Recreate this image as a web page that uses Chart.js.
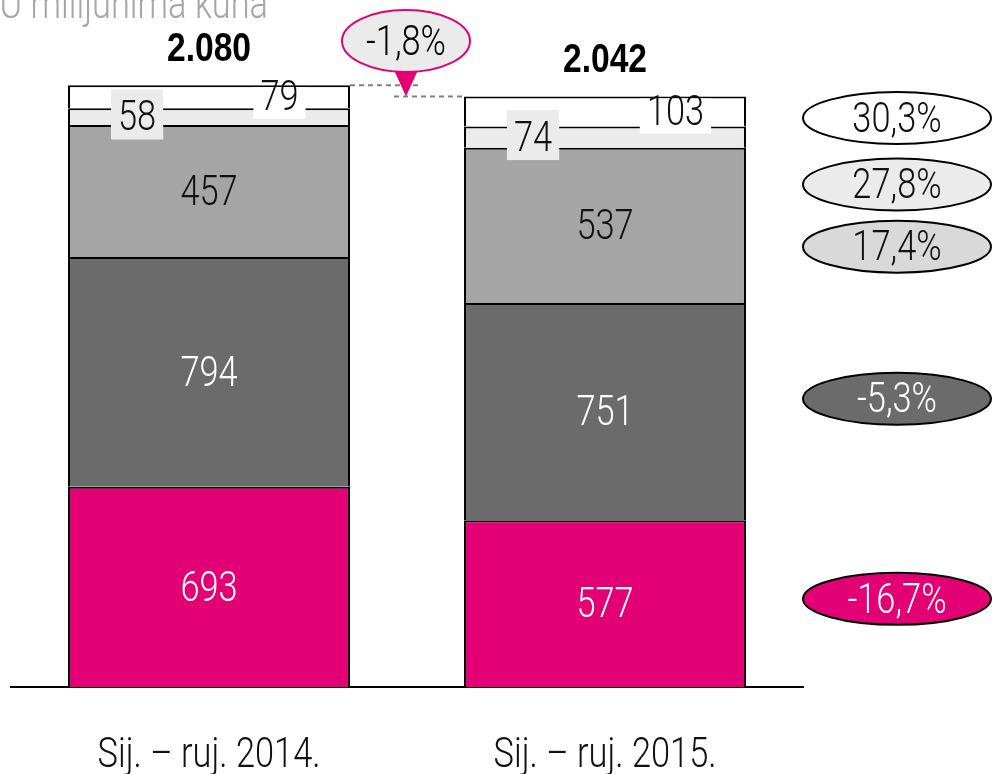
<!DOCTYPE html>
<html><head><meta charset="utf-8">
<script src="https://cdn.jsdelivr.net/npm/chart.js@4/dist/chart.umd.min.js"></script>
<style>html,body{margin:0;padding:0;background:#fff;overflow:hidden}#wrap{width:992px;height:774px;position:relative}</style>
</head><body><div id="wrap"><canvas id="c" width="992" height="774"></canvas></div>
<script>
// ---- data ----
const categories = ['Sij. – ruj. 2014.', 'Sij. – ruj. 2015.'];
const segment1 = [693, 577];   // magenta, bottom
const segment2 = [794, 751];   // dark grey
const segment3 = [457, 537];   // grey
const segment4 = [58, 74];     // light grey
const segment5 = [79, 103];    // white, top
const totals = [2080, 2042];
const growthLabels = ['30,3%', '27,8%', '17,4%', '-5,3%', '-16,7%'];
const totalChangeLabel = '-1,8%';
const titleText = 'U milijunima kuna';

const LIGHT_FONT = "Roboto, 'Liberation Sans', sans-serif";
const BOLD_FONT = "'Liberation Sans', Arial, sans-serif";
const MAGENTA = '#e20074';

function fmtThousands(n) {
  return String(n).replace(/\B(?=(\d{3})+(?!\d))/g, '.');
}
function setFont(ctx, size, weight) {
  if (weight === 'bold') ctx.font = `bold ${size}px ${BOLD_FONT}`;
  else ctx.font = `300 ${size}px ${LIGHT_FONT}`;
}
function squeezeOf(weight) { return weight === 'bold' ? 0.82 : 0.8; }
function textW(ctx, txt, size, weight) {
  setFont(ctx, size, weight);
  return ctx.measureText(txt).width * squeezeOf(weight);
}
function drawText(ctx, txt, x, y, size, color, opt) {
  opt = opt || {};
  ctx.save();
  setFont(ctx, size, opt.weight);
  ctx.fillStyle = color;
  ctx.textAlign = opt.align || 'center';
  ctx.textBaseline = opt.baseline || 'middle';
  ctx.translate(x, y);
  ctx.scale(squeezeOf(opt.weight), 1);
  ctx.fillText(txt, 0, 0);
  ctx.restore();
}
function ellipse(ctx, cx, cy, rx, ry, fill, stroke, lw) {
  ctx.beginPath();
  ctx.ellipse(cx, cy, rx, ry, 0, 0, Math.PI * 2);
  ctx.fillStyle = fill; ctx.fill();
  ctx.lineWidth = lw; ctx.strokeStyle = stroke; ctx.stroke();
}

const overlay = {
  id: 'overlay',
  afterDatasetsDraw(chart, args, opts) {
    const ctx = chart.ctx;
    const ys = chart.scales.y;
    const xs = chart.scales.x;
    const area = chart.chartArea;
    const nds = chart.data.datasets.length;
    const topMeta = chart.getDatasetMeta(nds - 1);
    ctx.save();
    // segment value labels
    chart.data.datasets.forEach((ds, di) => {
      const meta = chart.getDatasetMeta(di);
      const spec = opts.labels[di];
      meta.data.forEach((bar, i) => {
        const p = bar.getProps(['x', 'y', 'base', 'width'], true);
        const txt = String(ds.data[i]);
        const left = p.x - p.width / 2;
        const cx = left + p.width * spec.xFrac;
        const cy = (p.y + p.base) / 2;
        const tw = textW(ctx, txt, spec.size);
        if (spec.box) {
          ctx.save();
          const topY = topMeta.data[i].y;
          ctx.beginPath(); ctx.rect(left + 2, topY + 2, p.width - 4, 2000); ctx.clip();
          ctx.fillStyle = spec.box;
          ctx.fillRect(cx - tw / 2 - spec.padX, cy - spec.up, tw + 2 * spec.padX, spec.up + spec.down);
          ctx.restore();
        }
        drawText(ctx, txt, cx, cy + 3, spec.size, spec.color);
      });
    });
    // totals above bars
    const tops = [];
    topMeta.data.forEach((bar, i) => {
      tops.push({x: bar.x, w: bar.width, y: bar.y});
      drawText(ctx, fmtThousands(totals[i]), bar.x, bar.y - 36, 41, '#000', {weight: 'bold'});
    });
    // change callout between bars
    const a = tops[0], b = tops[1];
    const r1 = a.x + a.w / 2, l2 = b.x - b.w / 2;
    const mx = (r1 + l2) / 2 - 1;
    ctx.setLineDash([5, 4]);
    ctx.strokeStyle = '#808080'; ctx.lineWidth = 2;
    ctx.beginPath(); ctx.moveTo(r1, a.y); ctx.lineTo(mx + 12, a.y); ctx.stroke();
    ctx.beginPath(); ctx.moveTo(mx - 12, b.y); ctx.lineTo(l2, b.y); ctx.stroke();
    ctx.setLineDash([]);
    const ecy = 41;
    ctx.fillStyle = MAGENTA;
    ctx.beginPath(); ctx.moveTo(mx - 12, ecy + 29); ctx.lineTo(mx + 12, ecy + 29); ctx.lineTo(mx, b.y); ctx.closePath(); ctx.fill();
    ellipse(ctx, mx, ecy, 64, 31, '#ebebeb', MAGENTA, 2);
    drawText(ctx, totalChangeLabel, mx, ecy + 3, 43, '#000');
    // growth badges on the right
    const bx = area.right + 94;
    opts.badges.forEach((bd, k) => {
      const cy = ys.getPixelForValue(bd.at);
      ellipse(ctx, bx, cy, 94, 26, bd.fill, '#000', 2);
      drawText(ctx, growthLabels[k], bx, cy + 3, 43, bd.color);
    });
    // category labels under the axis
    chart.data.labels.forEach((lab, i) => {
      drawText(ctx, lab, xs.getPixelForValue(i), area.bottom + 69, 43, '#111');
    });
    // title (partly cut at top-left)
    drawText(ctx, titleText, 268, 18, 43, '#a6a6a6', {align: 'right', baseline: 'alphabetic'});
    ctx.restore();
  }
};

const common = {borderColor: '#000', borderWidth: 2, borderSkipped: 'start', inflateAmount: 0, categoryPercentage: 1, barPercentage: 0.712};
new Chart(document.getElementById('c'), {
  type: 'bar',
  data: {
    labels: categories,
    datasets: [
      Object.assign({data: segment1, backgroundColor: MAGENTA}, common),
      Object.assign({data: segment2, backgroundColor: '#6b6b6b'}, common),
      Object.assign({data: segment3, backgroundColor: '#a5a5a5'}, common),
      Object.assign({data: segment4, backgroundColor: '#ebebeb'}, common),
      Object.assign({data: segment5, backgroundColor: '#ffffff'}, common)
    ]
  },
  options: {
    responsive: false,
    animation: false,
    devicePixelRatio: 1,
    layout: {padding: {left: 11, right: 189, top: 22, bottom: 87}},
    plugins: {
      legend: {display: false},
      tooltip: {enabled: false},
      overlay: {
        labels: [
          {xFrac: 0.5, size: 43, color: '#fff'},
          {xFrac: 0.5, size: 43, color: '#fff'},
          {xFrac: 0.5, size: 43, color: '#111'},
          {xFrac: 0.245, size: 43, color: '#111', box: '#ebebeb', padX: 7, up: 27, down: 23},
          {xFrac: 0.75, size: 43, color: '#111', box: '#ffffff', padX: 7, up: 18, down: 22}
        ],
        badges: [
          {at: 1968, fill: '#ffffff', color: '#111'},
          {at: 1738, fill: '#ebebeb', color: '#111'},
          {at: 1523, fill: '#d9d9d9', color: '#111'},
          {at: 997, fill: '#6b6b6b', color: '#fff'},
          {at: 305, fill: MAGENTA, color: '#fff'}
        ]
      }
    },
    scales: {
      x: {
        stacked: true,
        z: 1,
        grid: {display: false, drawTicks: false},
        border: {display: true, color: '#000', width: 2},
        ticks: {display: false}
      },
      y: {
        stacked: true, display: false, min: 0, max: 2300
      }
    }
  },
  plugins: [overlay]
});
</script>
</body></html>
